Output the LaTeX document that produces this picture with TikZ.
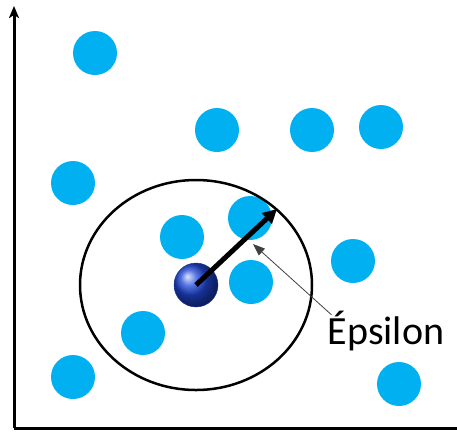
\documentclass[tikz,border=0pt]{standalone}
\usepackage{fontspec}
\setmainfont{Carlito}
\usetikzlibrary{arrows.meta,shapes.geometric}
\definecolor{dotblue}{RGB}{0,176,240}
\definecolor{ballblue}{RGB}{30,70,215}

\begin{document}
\begin{tikzpicture}[x=1pt,y=-1pt]
  % Define sizes
  \def\dotradius{22}
  \tikzset{
    dot/.style={circle, fill=dotblue, minimum size=2*\dotradius, inner sep=0pt},
    core/.style={circle, shading=ball, ball color=ballblue, draw=ballblue!70!black, minimum size=2*\dotradius, inner sep=0pt}
  }
  \useasboundingbox (0,0) rectangle (457,432);

  % Axes
  \coordinate (origin) at (14,428);
  \coordinate (ytop) at (14,6);
  \coordinate (xend) at (457,428);
  \draw[line width=3pt, -{Stealth[length=12pt,width=10pt,inset=3pt]}] (origin) -- (ytop);
  \draw[line width=3pt] (origin) -- (xend);

  % Data points
  \foreach \x/\y [count=\i] in {95/53, 217/130, 312/130, 381/127, 73/183, 182/237,
                                250/218, 251/282, 353/261, 143/333, 73/377, 399/384} {
    \node[dot] (p\i) at (\x,\y) {};
  }

  % Neighbourhood of the query point
  \node[ellipse, draw, line width=2.5pt, minimum width=232, minimum height=210, inner sep=0pt] (hood) at (196,285) {};
  \node[core] (q) at (196,285) {};

  % Radius
  \coordinate (rim) at (277,209);
  \draw[line width=5pt, -{Triangle[length=14pt,width=14pt]}] (q.center) -- (rim);

  % Label
  \node[font=\fontsize{40}{44}\selectfont, inner sep=0pt] (eps) at (386,331) {Épsilon};
  \coordinate (tip) at (253,244);
  \draw[line width=0.8pt, black!75, -{Triangle[length=12pt,width=9pt]}] ([xshift=4pt,yshift=-4pt]eps.north west) -- (tip);
\end{tikzpicture}
\end{document}
